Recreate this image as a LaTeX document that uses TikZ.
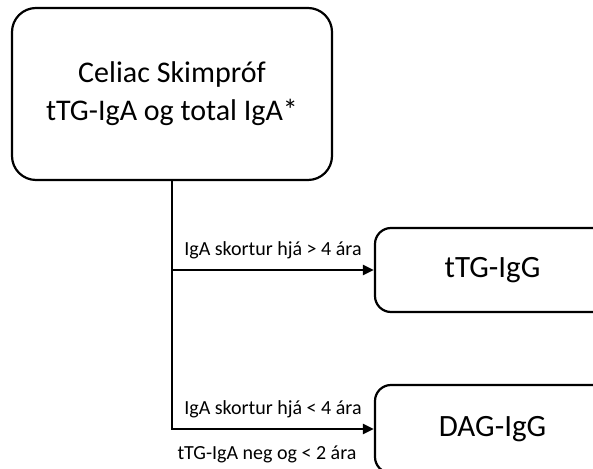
\documentclass[tikz,border=0pt]{standalone}
\usepackage{fontspec}
\setmainfont{Carlito}
\usetikzlibrary{arrows.meta}

\begin{document}
\begin{tikzpicture}[x=0.5pt, y=-0.5pt,
    % Styles
    bigbox/.style={% For the screening test
        rectangle,
        rounded corners=12pt,
        draw,
        line width=1.1pt,
        minimum width=160pt,
        minimum height=86pt,
        align=center,
        font=\fontsize{15}{19}\selectfont,
        },
    testbox/.style={% For the follow-up tests
        rectangle,
        rounded corners=8pt,
        draw,
        line width=1.1pt,
        minimum width=117.5pt,
        font=\fontsize{15.5}{18}\selectfont,
        },
    cond/.style={% For the conditions on the arrows
        font=\fontsize{10}{12}\selectfont,
        inner sep=0pt,
        anchor=base,
        },
    ArrowC1/.style={% Arrows with square corners
        -{Triangle[length=5.5pt,width=5pt]},
        line width=1.1pt,
        },
    ]

    \useasboundingbox (0,0) rectangle (593,469);

    % Draw the boxes
    \node [bigbox] (skim) at (172,94) {Celiac Skimpróf\\tTG-IgA og total IgA*};
    \node [testbox, minimum height=42pt] (ttg) at (492.5,270) {tTG-IgG};
    \node [testbox, minimum height=44pt] (dag) at (492.5,429) {DAG-IgG};

    % Draw Arrows
    \draw [ArrowC1] (skim.south) |- (ttg.west)
        node [cond, pos=0.75, yshift=7pt] (c1) {IgA skortur hjá > 4 ára};
    \draw [ArrowC1] (skim.south) |- (dag.west)
        node [cond, pos=0.75, yshift=7pt] (c2) {IgA skortur hjá < 4 ára}
        node [cond, pos=0.75, yshift=-15.3pt, xshift=-3pt] (c3) {tTG-IgA neg og < 2 ára};

\end{tikzpicture}
\end{document}
